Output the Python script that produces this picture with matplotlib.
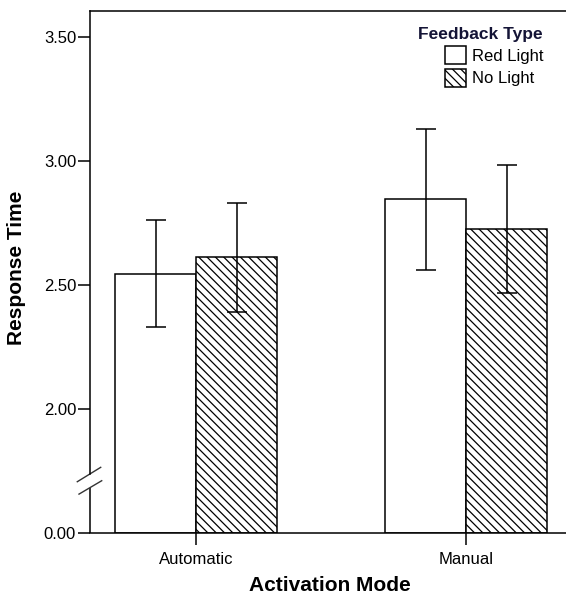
import numpy as np
import matplotlib
matplotlib.use('Agg')
import matplotlib.pyplot as plt
import matplotlib.transforms as mtransforms

plt.rcParams['font.family'] = ['Liberation Sans', 'DejaVu Sans']
plt.rcParams['hatch.linewidth'] = 0.9

# ===== Data =====
modes = ['Automatic', 'Manual']
feedback_types = ['Red Light', 'No Light']
red_means = [2.547, 2.846]
red_low = [2.330, 2.563]
red_high = [2.765, 3.129]
no_means = [2.613, 2.726]
no_low = [2.394, 2.467]
no_high = [2.832, 2.984]

# broken axis: the value 0.00 is drawn at 1.5, everything above 2.00 is linear
axis_zero = 1.5
ytick_pos = [1.5, 2.0, 2.5, 3.0, 3.5]
ytick_labels = ['0.00', '2.00', '2.50', '3.00', '3.50']

# ===== Figure =====
fig = plt.figure(figsize=(5.66, 5.99), dpi=100)
ax = fig.add_axes([90 / 566, 1 - 533.3 / 599, 476 / 566, 522.3 / 599])

x = np.arange(len(modes))
width = 0.30
lw = 1.1

for means, low, high, offset, hatch, name in [
        (red_means, red_low, red_high, -width / 2, None, feedback_types[0]),
        (no_means, no_low, no_high, width / 2, '\\\\\\\\', feedback_types[1])]:
    means = np.array(means)
    ax.bar(x + offset, means - axis_zero, width, bottom=axis_zero,
           facecolor='white', edgecolor='black', linewidth=lw,
           hatch=hatch, label=name, zorder=2)
    yerr = [means - np.array(low), np.array(high) - means]
    ax.errorbar(x + offset, means, yerr=yerr, fmt='none', ecolor='black',
                elinewidth=lw, capsize=7.5, capthick=lw, zorder=3)

ax.set_xlim(-0.3926, 1.370)
ax.set_ylim(axis_zero, 3.606)
ax.set_xticks(x)
ax.set_xticklabels(modes)
ax.set_yticks(ytick_pos)
ax.set_yticklabels(ytick_labels)
ax.tick_params(axis='both', direction='out', length=8.5, width=lw,
               labelsize=12, colors='black')
ax.tick_params(axis='y', pad=1.5)
ax.tick_params(axis='x', pad=5)

for side in ['top', 'bottom', 'left']:
    ax.spines[side].set_linewidth(lw)
ax.spines['right'].set_visible(False)

# axis break on the left spine
ax.spines['left'].set_bounds(1.739, 3.606)
trans = mtransforms.blended_transform_factory(ax.transAxes, ax.transData)
ax.plot([0, 0], [axis_zero, 1.684], transform=trans, color='black',
        lw=lw, clip_on=False, solid_capstyle='butt')
ax.plot([-0.0267, 0.0225], [1.708, 1.766], transform=trans, color='#333333',
        lw=1.0, clip_on=False)
ax.plot([-0.0231, 0.0246], [1.658, 1.712], transform=trans, color='#333333',
        lw=1.0, clip_on=False)

ax.set_ylabel('Response Time', fontsize=15, fontweight='bold')
ax.yaxis.set_label_coords(-0.135, 0.508)
ax.set_xlabel('Activation Mode', fontsize=15, fontweight='bold')
ax.xaxis.set_label_coords(0.504, -0.082)

leg = ax.legend(title='Feedback Type', loc='upper right',
                bbox_to_anchor=(543 / 566, 1 - 27 / 599),
                bbox_transform=fig.transFigure, frameon=False,
                fontsize=12, title_fontproperties={'weight': 'bold', 'size': 12.5},
                alignment='right', borderpad=0, borderaxespad=0,
                handlelength=1.25, handleheight=1.3, handletextpad=0.35,
                labelspacing=0.25)
leg.get_title().set_color('#141436')

fig.savefig('out.png', dpi=100)
